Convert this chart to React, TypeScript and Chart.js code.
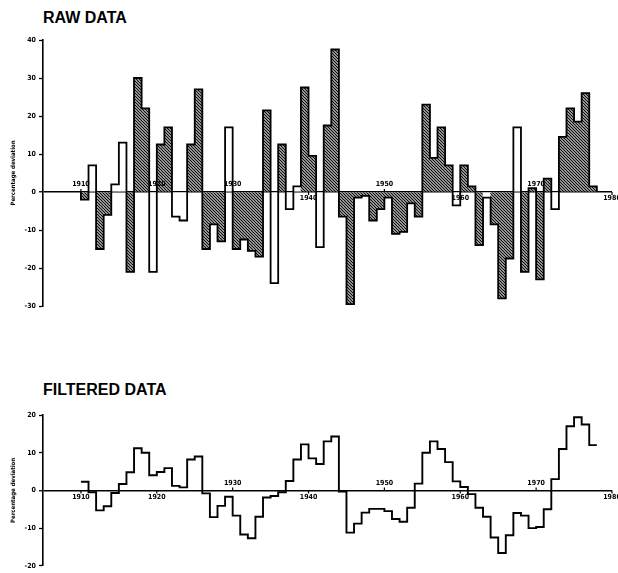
import React, { useEffect, useRef } from "react";
import { Chart, registerables } from "chart.js";

Chart.register(...registerables);

// ---- data ----
const YEARS = [
  1910, 1911, 1912, 1913, 1914, 1915, 1916, 1917, 1918, 1919,
  1920, 1921, 1922, 1923, 1924, 1925, 1926, 1927, 1928, 1929,
  1930, 1931, 1932, 1933, 1934, 1935, 1936, 1937, 1938, 1939,
  1940, 1941, 1942, 1943, 1944, 1945, 1946, 1947, 1948, 1949,
  1950, 1951, 1952, 1953, 1954, 1955, 1956, 1957, 1958, 1959,
  1960, 1961, 1962, 1963, 1964, 1965, 1966, 1967, 1968, 1969,
  1970, 1971, 1972, 1973, 1974, 1975, 1976, 1977,
];

const RAW_VALUES = [
  -2, 7, -15, -6, 2, 13, -21, 30, 22, -21,
  12.5, 17, -6.5, -7.5, 12.5, 27, -15, -8.5, -13, 17,
  -15, -12.5, -15.5, -17, 21.5, -24, 12.5, -4.5, 1.5, 27.5,
  9.5, -14.5, 17.5, 37.5, -6.5, -29.5, -1.5, -1, -7.5, -4.5,
  -1.5, -11, -10.5, -3, -6.5, 23, 9, 17, 7, -3.5,
  7, 1.5, -14, -1.5, -8.5, -28, -17.5, 17, -21, 1,
  -23, 3.5, -4.5, 14.5, 22, 18.5, 26, 1.5,
];

// h = hatched bar, w = open (white) bar
const RAW_FILL = [
  "h", "w", "h", "h", "w", "w", "h", "h", "h", "w",
  "h", "h", "w", "w", "h", "h", "h", "h", "h", "w",
  "h", "h", "h", "h", "h", "w", "h", "w", "w", "h",
  "h", "w", "h", "h", "h", "h", "h", "h", "h", "h",
  "h", "h", "h", "h", "h", "h", "h", "h", "h", "w",
  "h", "h", "h", "w", "h", "h", "h", "w", "h", "h",
  "h", "h", "w", "h", "h", "h", "h", "h",
];

const FILTERED_VALUES = [
  2.3, -0.5, -5.3, -4.2, -0.7, 1.7, 4.8, 11.2, 10, 4,
  4.9, 5.9, 1.2, 0.8, 8.2, 9, -0.8, -7.1, -4.1, -1.7,
  -6.7, -11.7, -12.7, -7, -1.9, -1.5, -0.5, 2.5, 8.2, 12.2,
  8.5, 7, 13, 14.3, -0.3, -11.2, -8.8, -5.9, -4.9, -4.9,
  -5.5, -7.6, -8.3, -4.6, 1.8, 10, 13, 11, 7.5, 2.4,
  0.9, -1, -4.6, -7, -12.5, -16.6, -11.9, -6, -6.7, -10,
  -9.7, -5, 3, 11, 17, 19.4, 17.5, 12,
];

const DECADE_TICKS = [1910, 1920, 1930, 1940, 1950, 1960, 1970, 1980];
const RAW_TICK_SIDE = ["above", "above", "above", "below", "above", "below", "above", "below"];
const FILTERED_TICK_SIDE = ["below", "below", "above", "below", "above", "below", "above", "below"];

const X_MIN = 1905;
const X_MAX = 1980;
const RAW_Y = { min: -30, max: 40, step: 10 };
const FILTERED_Y = { min: -20, max: 20, step: 10 };

const SMALL_FONT = "'Liberation Sans Narrow', 'DejaVu Sans Condensed', 'Liberation Sans', Arial, sans-serif";
const TITLE_FONT = "'Liberation Sans', Arial, Helvetica, sans-serif";

function makeHatch(): CanvasPattern | string {
  const c = document.createElement("canvas");
  const s = 3;
  c.width = s;
  c.height = s;
  const g = c.getContext("2d");
  if (!g) return "#555";
  g.fillStyle = "#fff";
  g.fillRect(0, 0, s, s);
  g.strokeStyle = "#0d0d0d";
  g.lineWidth = 1.3;
  g.beginPath();
  g.moveTo(-1, -1);
  g.lineTo(s + 1, s + 1);
  g.moveTo(-1, s - 1);
  g.lineTo(1, s + 1);
  g.moveTo(s - 1, -1);
  g.lineTo(s + 1, 1);
  g.stroke();
  return g.createPattern(c, "repeat") || "#555";
}

function decadePlugin(sides: string[]) {
  return {
    id: "decadeLabels",
    afterDatasetsDraw(chart: any) {
      const { ctx } = chart;
      const x = chart.scales.x;
      const y = chart.scales.y;
      const y0 = y.getPixelForValue(0);
      ctx.save();
      ctx.strokeStyle = "#000";
      ctx.fillStyle = "#000";
      ctx.lineWidth = 1.2;
      ctx.font = `bold 7px ${SMALL_FONT}`;
      ctx.textAlign = "center";
      DECADE_TICKS.forEach((yr, i) => {
        const px = x.getPixelForValue(yr);
        const above = sides[i] === "above";
        ctx.beginPath();
        ctx.moveTo(px, y0);
        ctx.lineTo(px, above ? y0 - 3 : y0 + 3);
        ctx.stroke();
        ctx.textBaseline = above ? "bottom" : "top";
        ctx.fillText(String(yr), px, above ? y0 - 4 : y0 + 3);
      });
      ctx.restore();
    },
  };
}

function yAxis(range: { min: number; max: number; step: number }) {
  return {
    min: range.min,
    max: range.max,
    afterFit: (s: any) => {
      s.width = 43;
    },
    border: { display: true, color: "#000", width: 1.6 },
    grid: {
      color: (c: any) => (c.tick && c.tick.value === 0 ? "#000" : "rgba(0,0,0,0)"),
      lineWidth: (c: any) => (c.tick && c.tick.value === 0 ? 1.5 : 1),
      tickColor: "#000",
      tickWidth: 1.3,
      tickLength: 4,
    },
    ticks: {
      stepSize: range.step,
      color: "#000",
      padding: 3,
      font: { size: 7, weight: "bold", family: SMALL_FONT },
    },
    title: {
      display: true,
      text: "Percentage deviation",
      color: "#000",
      font: { size: 6, weight: "bold", family: SMALL_FONT },
      padding: { top: 10, bottom: 0 },
    },
  };
}

const xAxis = {
  type: "linear",
  min: X_MIN,
  max: X_MAX,
  offset: false,
  display: false,
  ticks: { stepSize: 10 },
};

export default function App() {
  const rawRef = useRef<HTMLCanvasElement | null>(null);
  const filtRef = useRef<HTMLCanvasElement | null>(null);

  useEffect(() => {
    if (!rawRef.current || !filtRef.current) return;
    const hatch = makeHatch();
    const last = YEARS.length - 1;

    // outline of the histogram: a stepped line over the same values, closed to zero at both ends
    const rawOutline = [{ x: YEARS[0], y: 0 }]
      .concat(YEARS.map((yr, i) => ({ x: yr, y: RAW_VALUES[i] })))
      .concat([
        { x: YEARS[last] + 1, y: RAW_VALUES[last] },
        { x: YEARS[last] + 1, y: 0 },
      ]);

    const rawChart = new Chart(rawRef.current, {
      type: "bar",
      data: {
        datasets: [
          {
            type: "line",
            order: 0,
            data: rawOutline,
            stepped: "before",
            borderColor: "#000",
            borderWidth: 1.8,
            pointRadius: 0,
            fill: false,
            tension: 0,
          } as any,
          {
            type: "bar",
            order: 1,
            data: YEARS.map((yr, i) => ({ x: yr + 0.5, y: RAW_VALUES[i] })),
            backgroundColor: (c: any) => (RAW_FILL[c.dataIndex] === "w" ? "#fff" : hatch),
            borderWidth: 0,
            barPercentage: 1,
            categoryPercentage: 1,
            inflateAmount: 0.3,
          } as any,
        ],
      },
      options: {
        animation: false,
        responsive: false,
        devicePixelRatio: 1,
        layout: { padding: { top: 40, bottom: 14, left: 0, right: 6 } },
        plugins: { legend: { display: false }, tooltip: { enabled: false }, title: { display: false } },
        scales: { x: xAxis as any, y: yAxis(RAW_Y) as any },
      },
      plugins: [decadePlugin(RAW_TICK_SIDE)],
    });

    const stepPoints = YEARS.map((yr, i) => ({ x: yr, y: FILTERED_VALUES[i] }));
    stepPoints.push({ x: YEARS[last] + 1, y: FILTERED_VALUES[last] });

    const filtChart = new Chart(filtRef.current, {
      type: "line",
      data: {
        datasets: [
          {
            data: stepPoints,
            stepped: "before",
            borderColor: "#000",
            borderWidth: 1.9,
            pointRadius: 0,
            fill: false,
            tension: 0,
          } as any,
        ],
      },
      options: {
        animation: false,
        responsive: false,
        devicePixelRatio: 1,
        layout: { padding: { top: 85, bottom: 6, left: 0, right: 6 } },
        plugins: { legend: { display: false }, tooltip: { enabled: false }, title: { display: false } },
        scales: { x: xAxis as any, y: yAxis(FILTERED_Y) as any },
      },
      plugins: [decadePlugin(FILTERED_TICK_SIDE)],
    });

    return () => {
      rawChart.destroy();
      filtChart.destroy();
    };
  }, []);

  const titleStyle: React.CSSProperties = {
    position: "absolute",
    left: 43,
    margin: 0,
    font: `bold 16px ${TITLE_FONT}`,
    lineHeight: "16px",
    color: "#000",
    whiteSpace: "nowrap",
  };

  return (
    <div style={{ position: "absolute", left: 0, top: 0, width: 618, height: 573, background: "#fff", overflow: "hidden" }}>
      <div style={{ ...titleStyle, top: 10 }}>RAW DATA</div>
      <canvas
        ref={rawRef}
        width={618}
        height={320}
        style={{ position: "absolute", left: 0, top: 0, width: 618, height: 320 }}
      />
      <div style={{ ...titleStyle, top: 382 }}>FILTERED DATA</div>
      <canvas
        ref={filtRef}
        width={618}
        height={243}
        style={{ position: "absolute", left: 0, top: 330, width: 618, height: 243 }}
      />
    </div>
  );
}
